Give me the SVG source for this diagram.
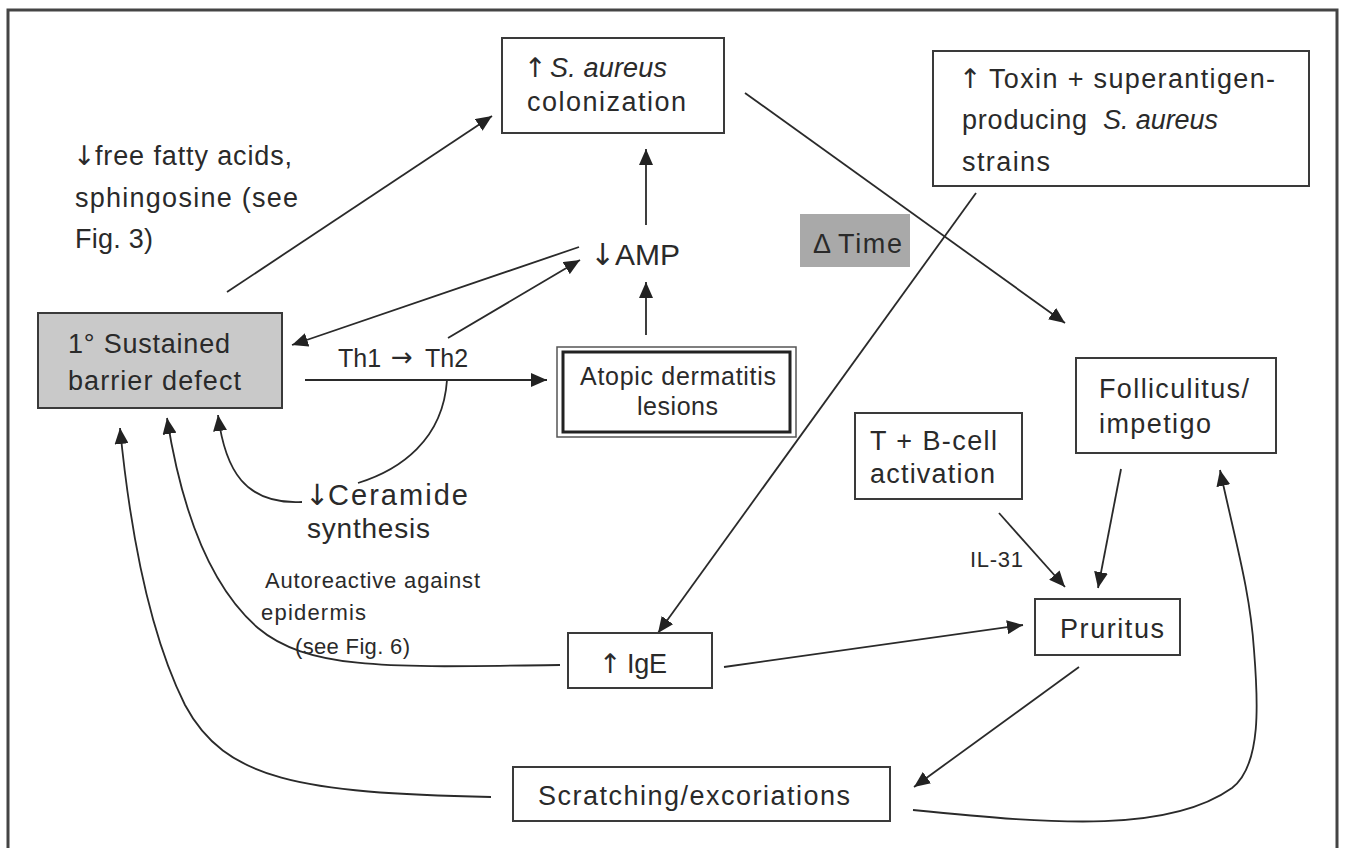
<svg xmlns="http://www.w3.org/2000/svg" width="1345" height="848" viewBox="0 0 1345 848">
<defs>
<marker id="ah" markerUnits="userSpaceOnUse" markerWidth="18" markerHeight="14" refX="16" refY="7" orient="auto">
<path d="M0,0 L16,7 L0,14 Z" fill="#222"/>
</marker>
<style>
text{font-family:"Liberation Sans",Arial,sans-serif;fill:#2a2a2a;font-size:27px}
.sm{font-size:22px}
.it{font-style:italic}
.sym{font-family:"DejaVu Sans",sans-serif;fill:#2a2a2a}
.box{fill:#fff;stroke:#3a3a3a;stroke-width:2}
.con{fill:none;stroke:#2a2a2a;stroke-width:1.8}
.arr{fill:none;stroke:#2a2a2a;stroke-width:1.8;marker-end:url(#ah)}
</style>
</defs>
<rect width="1345" height="848" fill="#fff"/>
<path d="M8,850 L8,10 L1337,10 L1337,850" fill="none" stroke="#444" stroke-width="3"/>

<g id="connectors">
<path class="arr" d="M227,292 L492,116"/>
<path class="arr" d="M579,247 L292,345"/>
<path class="arr" d="M448,338 L580,260"/>
<path class="arr" d="M646,225 L646,149"/>
<path class="arr" d="M646,335 L646,282"/>
<path class="arr" d="M305,380 L547,380"/>
<path class="con" d="M447,380 C443,440 400,470 358,483"/>
<path class="arr" d="M302,502 C245,505 225,470 218,415"/>
<path class="arr" d="M560,665 C400,667 310,672 258,628 C205,582 180,500 167,418"/>
<path class="arr" d="M491,797 C300,793 225,780 185,705 C150,635 130,530 120,428"/>
<path class="arr" d="M913,810 C1060,825 1170,832 1232,788 C1262,765 1258,700 1254,650 C1250,590 1235,540 1220,470"/>
<path class="arr" d="M745,93 L1065,323"/>
<path class="arr" d="M976,193 L658,633"/>
<path class="arr" d="M999,513 L1065,587"/>
<path class="arr" d="M1121,469 L1098,588"/>
<path class="arr" d="M724,667 L1023,625"/>
<path class="arr" d="M1079,667 L914,787"/>
</g>

<g id="note-ffa">
<text class="sym" x="73" y="165">↓</text>
<text x="95" y="165" textLength="197" lengthAdjust="spacing">free fatty acids,</text>
<text x="75" y="207" textLength="223" lengthAdjust="spacing">sphingosine (see</text>
<text x="75" y="248" textLength="78" lengthAdjust="spacing">Fig. 3)</text>
</g>

<g id="node-saureus">
<rect class="box" x="502" y="38" width="222" height="95"/>
<text class="sym" x="524" y="77">↑</text>
<text class="it" x="550" y="77" textLength="117" lengthAdjust="spacing">S. aureus</text>
<text x="527" y="111" textLength="159" lengthAdjust="spacing">colonization</text>
</g>

<g id="node-toxin">
<rect class="box" x="933" y="51" width="376" height="135"/>
<text class="sym" x="959" y="88">↑</text>
<text x="989" y="88" textLength="286" lengthAdjust="spacing">Toxin + superantigen-</text>
<text x="962" y="129" textLength="125" lengthAdjust="spacing">producing</text>
<text class="it" x="1103" y="129" textLength="115" lengthAdjust="spacing">S. aureus</text>
<text x="962" y="171" textLength="88" lengthAdjust="spacing">strains</text>
</g>

<g id="node-time">
<rect x="800" y="214" width="110" height="53" fill="#a9a9a9"/>
<text x="813" y="253">Δ</text>
<text x="838" y="253" textLength="64" lengthAdjust="spacing">Time</text>
</g>

<g id="node-amp">
<text class="sym" x="590" y="265" style="font-size:30px">↓</text>
<text x="615" y="265" style="font-size:30px" textLength="65" lengthAdjust="spacing">AMP</text>
</g>

<g id="node-barrier">
<rect x="38" y="313" width="244" height="95" fill="#c9c9c9" stroke="#3a3a3a" stroke-width="2"/>
<text x="68" y="353" textLength="162" lengthAdjust="spacing">1° Sustained</text>
<text x="68" y="390" textLength="173" lengthAdjust="spacing">barrier defect</text>
</g>

<g id="label-th">
<text x="338" y="367" style="font-size:25px">Th1</text>
<text class="sym" x="391" y="366" style="font-size:26px">→</text>
<text x="425" y="367" style="font-size:25px">Th2</text>
</g>

<g id="node-atopic">
<rect x="557" y="347" width="239" height="90" fill="#fff" stroke="#555" stroke-width="1.5"/>
<rect x="563" y="352" width="227" height="80" fill="none" stroke="#222" stroke-width="3"/>
<text x="580" y="385" style="font-size:25px" textLength="196" lengthAdjust="spacing">Atopic dermatitis</text>
<text x="637" y="415" style="font-size:25px" textLength="81" lengthAdjust="spacing">lesions</text>
</g>

<g id="node-ceramide">
<text class="sym" x="305" y="505" style="font-size:29px">↓</text>
<text x="328" y="505" style="font-size:29px" textLength="140" lengthAdjust="spacing">Ceramide</text>
<text x="307" y="538" style="font-size:28px" textLength="123" lengthAdjust="spacing">synthesis</text>
</g>

<g id="node-folliculitus">
<rect class="box" x="1076" y="358" width="200" height="95"/>
<text x="1099" y="398" textLength="150" lengthAdjust="spacing">Folliculitus/</text>
<text x="1099" y="433" textLength="112" lengthAdjust="spacing">impetigo</text>
</g>

<g id="node-tb">
<rect class="box" x="855" y="413" width="167" height="86"/>
<text x="870" y="450" textLength="127" lengthAdjust="spacing">T + B-cell</text>
<text x="870" y="483" textLength="125" lengthAdjust="spacing">activation</text>
</g>

<g id="label-il31">
<text class="sm" x="970" y="567" textLength="53" lengthAdjust="spacing">IL-31</text>
</g>

<g id="label-autoreactive">
<text class="sm" x="265" y="588" textLength="215" lengthAdjust="spacing">Autoreactive against</text>
<text class="sm" x="261" y="620" textLength="105" lengthAdjust="spacing">epidermis</text>
<text class="sm" x="295" y="654" textLength="115" lengthAdjust="spacing">(see Fig. 6)</text>
</g>

<g id="node-ige">
<rect class="box" x="568" y="633" width="144" height="55"/>
<text class="sym" x="599" y="673">↑</text>
<text x="627" y="673" textLength="40" lengthAdjust="spacing">IgE</text>
</g>

<g id="node-pruritus">
<rect class="box" x="1035" y="599" width="145" height="56"/>
<text x="1060" y="638" textLength="104" lengthAdjust="spacing">Pruritus</text>
</g>

<g id="node-scratching">
<rect class="box" x="513" y="767" width="377" height="54"/>
<text x="538" y="805" textLength="312" lengthAdjust="spacing">Scratching/excoriations</text>
</g>
</svg>
